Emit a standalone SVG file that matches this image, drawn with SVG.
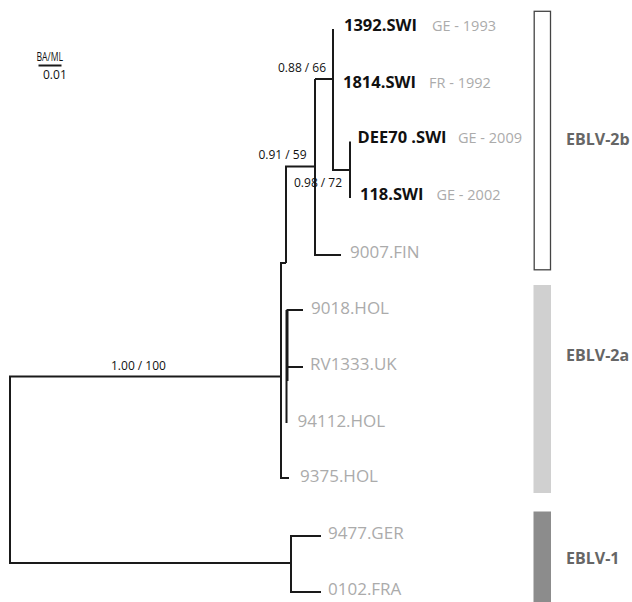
<svg xmlns="http://www.w3.org/2000/svg" width="632" height="602" viewBox="0 0 632 602">
<style>
.br{fill:none;stroke:#1a1a1a;stroke-width:2;stroke-linecap:butt;stroke-linejoin:miter}
.tip{font-family:"Open Sans","Noto Sans",sans-serif;font-size:17px;fill:#ababab}
.swi{font-family:"Open Sans","Noto Sans",sans-serif;font-size:16.5px;font-weight:bold;fill:#111}
.yr{font-family:"Open Sans","Noto Sans",sans-serif;font-size:14.5px;fill:#ababab}
.bs{font-family:"Open Sans","Noto Sans",sans-serif;font-size:12px;fill:#111}
.grp{font-family:"Open Sans","Noto Sans",sans-serif;font-size:16px;font-weight:bold;fill:#666}
</style>
<rect width="632" height="602" fill="#fff"/>
<g id="scale">
<text class="bs" x="36.5" y="60.5" font-size="12" textLength="26.5" lengthAdjust="spacingAndGlyphs">BA/ML</text>
<line x1="38.5" y1="65.5" x2="61.5" y2="65.5" stroke="#1a1a1a" stroke-width="2"/>
<text class="bs" x="43" y="79" font-size="11.5">0.01</text>
</g>
<g id="connectors">
<path class="br" d="M321,536 H291 V592 H321 M291,563 H10 V376.5 H281"/>
<path class="br" d="M281,263 V478 H289 M280,263 H286 M286,263 V166.5 H315"/>
<path class="br" d="M286.5,310 V423 M287.5,310 V381 M286.5,310 H303 M286.5,367 H303"/>
<path class="br" d="M315,79 V255 H341 M315,79 H333 M333,29 V170 H350 M350,141.5 V198"/>
</g>
<g id="bootstrap">
<text class="bs" x="278" y="72">0.88 / 66</text>
<text class="bs" x="306.5" y="159" text-anchor="end">0.91 / 59</text>
<text class="bs" x="294" y="187">0.98 / 72</text>
<text class="bs" x="111" y="370">1.00 / 100</text>
</g>
<g id="n1392"><text class="swi" x="344" y="31">1392.SWI</text><text class="yr" x="432" y="31">GE - 1993</text></g>
<g id="n1814"><text class="swi" x="343" y="88">1814.SWI</text><text class="yr" x="429" y="88">FR - 1992</text></g>
<g id="nDEE70"><text class="swi" x="357.5" y="142.5">DEE70 .SWI</text><text class="yr" x="458" y="142.5">GE - 2009</text></g>
<g id="n118"><text class="swi" x="360" y="200">118.SWI</text><text class="yr" x="436.5" y="200">GE - 2002</text></g>
<g id="n9007"><text class="tip" x="350" y="258">9007.FIN</text></g>
<g id="n9018"><text class="tip" x="311" y="313.5">9018.HOL</text></g>
<g id="nRV1333"><text class="tip" x="310" y="370">RV1333.UK</text></g>
<g id="n94112"><text class="tip" x="297.5" y="427">94112.HOL</text></g>
<g id="n9375"><text class="tip" x="300" y="482">9375.HOL</text></g>
<g id="n9477"><text class="tip" x="328" y="539">9477.GER</text></g>
<g id="n0102"><text class="tip" x="328" y="594.5">0102.FRA</text></g>
<g id="eblv2b"><rect x="534.2" y="11.3" width="16.3" height="258.5" fill="#fff" stroke="#444" stroke-width="1.3"/><text class="grp" x="566" y="145">EBLV-2b</text></g>
<g id="eblv2a"><rect x="533.5" y="285" width="17.5" height="208" fill="#d0d0d0"/><text class="grp" x="566" y="361">EBLV-2a</text></g>
<g id="eblv1"><rect x="533.5" y="511.5" width="17.5" height="90.5" fill="#8c8c8c"/><text class="grp" x="566" y="563.5">EBLV-1</text></g>
</svg>
